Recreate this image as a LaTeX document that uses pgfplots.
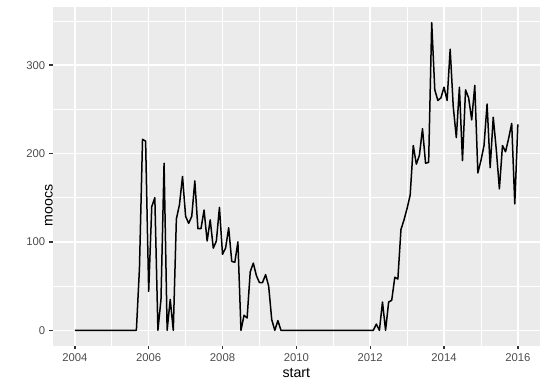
\documentclass[border=0pt]{standalone}
\usepackage{fontspec}
\setmainfont{Liberation Sans}
\usepackage{pgfplots}
\pgfplotsset{compat=1.18}
\definecolor{panelgray}{HTML}{EBEBEB}
\definecolor{tickgray}{HTML}{333333}
\definecolor{labelgray}{HTML}{4D4D4D}
\begin{document}
\begin{tikzpicture}
\path[use as bounding box] (0,0) rectangle (548bp,388bp);
\begin{axis}[
  at={(52.7bp,42.3bp)}, anchor=south west,
  scale only axis, width=487.3bp, height=338.4bp,
  xmin=-7.2, xmax=151.2, ymin=-17.4, ymax=365.4,
  axis background/.style={fill=panelgray},
  axis line style={draw=none},
  tick pos=left,
  tick align=outside,
  major tick length=3.5bp,
  minor tick length=0pt,
  major tick style={color=tickgray, line width=1.3bp},
  minor tick style={draw=none},
  xtick={0,24,48,72,96,120,144},
  xticklabels={2004,2006,2008,2010,2012,2014,2016},
  minor xtick={12,36,60,84,108,132},
  ytick={0,100,200,300},
  minor ytick={50,150,250,350},
  /pgf/number format/assume math mode=true,
  grid=both,
  major grid style={white, line width=1.4bp},
  minor grid style={white, line width=0.7bp},
  tick label style={font=\fontsize{11.3bp}{13bp}\selectfont, color=labelgray, inner sep=0pt},
  xticklabel style={anchor=north, yshift=-4bp},
  yticklabel style={anchor=east, xshift=-3.8bp},
  xlabel={start}, ylabel={moocs},
  every axis x label/.style={at={(axis description cs:0.5,0)}, anchor=base, yshift=-31.6bp, font=\fontsize{14.2bp}{16bp}\selectfont},
  every axis y label/.style={at={(axis description cs:0,0.5)}, rotate=90, anchor=base, xshift=-28.7bp, font=\fontsize{14.2bp}{16bp}\selectfont},
]
\addplot[black, line width=1.5bp, line join=round] coordinates {
(0,0)(1,0)(2,0)(3,0)(4,0)(5,0)(6,0)(7,0)(8,0)(9,0)(10,0)(11,0)
(12,0)(13,0)(14,0)(15,0)(16,0)(17,0)(18,0)(19,0)(20,0)
(21,70)(22,216)(23,214)
(24,44)(25,140)(26,150)(27,0)(28,35)(29,189)(30,0)(31,35)(32,0)(33,126)(34,142)(35,174)
(36,129)(37,121)(38,129)(39,169)(40,115)(41,115)(42,136)(43,101)(44,125)(45,93)(46,101)(47,139)
(48,86)(49,93)(50,116)(51,78)(52,77)(53,100)(54,0)(55,17)(56,14)(57,66)(58,76)(59,62)
(60,54)(61,54)(62,63)(63,50)(64,12)(65,0)(66,11)(67,0)(68,0)(69,0)(70,0)(71,0)
(72,0)(73,0)(74,0)(75,0)(76,0)(77,0)(78,0)(79,0)(80,0)(81,0)(82,0)(83,0)
(84,0)(85,0)(86,0)(87,0)(88,0)(89,0)(90,0)(91,0)(92,0)(93,0)(94,0)(95,0)
(96,0)(97,0)(98,7)(99,0)(100,32)(101,0)(102,32)(103,34)(104,60)(105,58)(106,114)(107,125)
(108,138)(109,153)(110,209)(111,188)(112,198)(113,228)(114,189)(115,190)(116,348)(117,272)(118,260)(119,263)
(120,275)(121,260)(122,318)(123,253)(124,218)(125,275)(126,192)(127,272)(128,263)(129,238)(130,277)(131,178)
(132,192)(133,209)(134,256)(135,184)(136,241)(137,204)(138,160)(139,209)(140,202)(141,217)(142,234)(143,143)
(144,233)
};
\end{axis}
\end{tikzpicture}
\end{document}
